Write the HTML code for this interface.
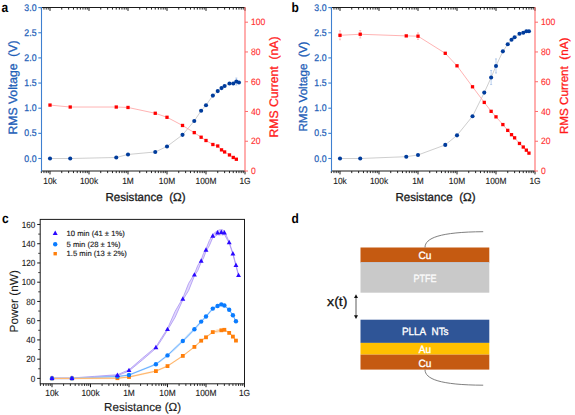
<!DOCTYPE html>
<html><head><meta charset="utf-8"><style>
html,body{margin:0;padding:0;background:#fff;width:575px;height:415px;overflow:hidden}
svg{display:block}
text{font-family:"Liberation Sans", sans-serif;text-rendering:geometricPrecision}
</style></head><body>
<svg width="575" height="415" viewBox="0 0 575 415">
<rect width="575" height="415" fill="#fff"/>
<g transform="translate(1.6 11.7) scale(0.88 1)"><text x="0" y="0" font-size="13.6" font-weight="bold" fill="#000">a</text></g>
<path d="M50,158.5 L70.22,158.5 L116.26,157.49 L128,154.48 L155.26,151.96 L167,146.43 L182.52,134.86 L194.26,120.98 L201.13,110.72 L206,105.18 L212.87,95.62 L217.74,91.1 L221.52,88.08 L224.61,86.07 L229.48,83.55 L233.26,83.55 L236.35,81.54 L238.96,82.55" fill="none" stroke="#c8c8c8" stroke-width="0.9"/>
<path d="M50,105.08 L70.22,107.02 L116.26,107.02 L128,107.46 L155.26,113.27 L167,117.28 L182.52,125.47 L194.26,132.61 L201.13,137.22 L206,140.5 L212.87,144.51 L217.74,146 L221.52,149.87 L224.61,151.95 L229.48,154.93 L233.26,157.46 L236.35,159.24" fill="none" stroke="#ffaaaa" stroke-width="0.9"/>
<path d="M236.35,78.02 V85.06 M235.35,78.02 h2 M235.35,85.06 h2" stroke="#8fb0e0" stroke-width="0.6" fill="none"/>
<rect x="48.35" y="103.43" width="3.3" height="3.3" fill="#ff0000"/>
<rect x="68.57" y="105.37" width="3.3" height="3.3" fill="#ff0000"/>
<rect x="114.61" y="105.37" width="3.3" height="3.3" fill="#ff0000"/>
<rect x="126.35" y="105.81" width="3.3" height="3.3" fill="#ff0000"/>
<rect x="153.61" y="111.62" width="3.3" height="3.3" fill="#ff0000"/>
<rect x="165.35" y="115.63" width="3.3" height="3.3" fill="#ff0000"/>
<rect x="180.87" y="123.82" width="3.3" height="3.3" fill="#ff0000"/>
<rect x="192.61" y="130.96" width="3.3" height="3.3" fill="#ff0000"/>
<rect x="199.48" y="135.57" width="3.3" height="3.3" fill="#ff0000"/>
<rect x="204.35" y="138.85" width="3.3" height="3.3" fill="#ff0000"/>
<rect x="211.22" y="142.86" width="3.3" height="3.3" fill="#ff0000"/>
<rect x="216.09" y="144.35" width="3.3" height="3.3" fill="#ff0000"/>
<rect x="219.87" y="148.22" width="3.3" height="3.3" fill="#ff0000"/>
<rect x="222.96" y="150.3" width="3.3" height="3.3" fill="#ff0000"/>
<rect x="227.83" y="153.28" width="3.3" height="3.3" fill="#ff0000"/>
<rect x="231.61" y="155.81" width="3.3" height="3.3" fill="#ff0000"/>
<rect x="234.7" y="157.59" width="3.3" height="3.3" fill="#ff0000"/>
<circle cx="50" cy="158.5" r="2.05" fill="#003c9c"/>
<circle cx="70.22" cy="158.5" r="2.05" fill="#003c9c"/>
<circle cx="116.26" cy="157.49" r="2.05" fill="#003c9c"/>
<circle cx="128" cy="154.48" r="2.05" fill="#003c9c"/>
<circle cx="155.26" cy="151.96" r="2.05" fill="#003c9c"/>
<circle cx="167" cy="146.43" r="2.05" fill="#003c9c"/>
<circle cx="182.52" cy="134.86" r="2.05" fill="#003c9c"/>
<circle cx="194.26" cy="120.98" r="2.05" fill="#003c9c"/>
<circle cx="201.13" cy="110.72" r="2.05" fill="#003c9c"/>
<circle cx="206" cy="105.18" r="2.05" fill="#003c9c"/>
<circle cx="212.87" cy="95.62" r="2.05" fill="#003c9c"/>
<circle cx="217.74" cy="91.1" r="2.05" fill="#003c9c"/>
<circle cx="221.52" cy="88.08" r="2.05" fill="#003c9c"/>
<circle cx="224.61" cy="86.07" r="2.05" fill="#003c9c"/>
<circle cx="229.48" cy="83.55" r="2.05" fill="#003c9c"/>
<circle cx="233.26" cy="83.55" r="2.05" fill="#003c9c"/>
<circle cx="236.35" cy="81.54" r="2.05" fill="#003c9c"/>
<circle cx="238.96" cy="82.55" r="2.05" fill="#003c9c"/>
<line x1="41.5" y1="7.5" x2="245" y2="7.5" stroke="#1a1a1a" stroke-width="1"/>
<line x1="41.5" y1="171" x2="245" y2="171" stroke="#1a1a1a" stroke-width="1"/>
<line x1="41.35" y1="171" x2="41.35" y2="173.1" stroke="#1a1a1a" stroke-width="0.95"/>
<line x1="41.35" y1="7.5" x2="41.35" y2="9.6" stroke="#1a1a1a" stroke-width="0.95"/>
<line x1="43.96" y1="171" x2="43.96" y2="173.1" stroke="#1a1a1a" stroke-width="0.95"/>
<line x1="43.96" y1="7.5" x2="43.96" y2="9.6" stroke="#1a1a1a" stroke-width="0.95"/>
<line x1="46.22" y1="171" x2="46.22" y2="173.1" stroke="#1a1a1a" stroke-width="0.95"/>
<line x1="46.22" y1="7.5" x2="46.22" y2="9.6" stroke="#1a1a1a" stroke-width="0.95"/>
<line x1="48.22" y1="171" x2="48.22" y2="173.1" stroke="#1a1a1a" stroke-width="0.95"/>
<line x1="48.22" y1="7.5" x2="48.22" y2="9.6" stroke="#1a1a1a" stroke-width="0.95"/>
<line x1="50" y1="171" x2="50" y2="174.4" stroke="#1a1a1a" stroke-width="1"/>
<line x1="50" y1="7.5" x2="50" y2="10.9" stroke="#1a1a1a" stroke-width="1"/>
<line x1="61.74" y1="171" x2="61.74" y2="173.1" stroke="#1a1a1a" stroke-width="0.95"/>
<line x1="61.74" y1="7.5" x2="61.74" y2="9.6" stroke="#1a1a1a" stroke-width="0.95"/>
<line x1="68.61" y1="171" x2="68.61" y2="173.1" stroke="#1a1a1a" stroke-width="0.95"/>
<line x1="68.61" y1="7.5" x2="68.61" y2="9.6" stroke="#1a1a1a" stroke-width="0.95"/>
<line x1="73.48" y1="171" x2="73.48" y2="173.1" stroke="#1a1a1a" stroke-width="0.95"/>
<line x1="73.48" y1="7.5" x2="73.48" y2="9.6" stroke="#1a1a1a" stroke-width="0.95"/>
<line x1="77.26" y1="171" x2="77.26" y2="173.1" stroke="#1a1a1a" stroke-width="0.95"/>
<line x1="77.26" y1="7.5" x2="77.26" y2="9.6" stroke="#1a1a1a" stroke-width="0.95"/>
<line x1="80.35" y1="171" x2="80.35" y2="173.1" stroke="#1a1a1a" stroke-width="0.95"/>
<line x1="80.35" y1="7.5" x2="80.35" y2="9.6" stroke="#1a1a1a" stroke-width="0.95"/>
<line x1="82.96" y1="171" x2="82.96" y2="173.1" stroke="#1a1a1a" stroke-width="0.95"/>
<line x1="82.96" y1="7.5" x2="82.96" y2="9.6" stroke="#1a1a1a" stroke-width="0.95"/>
<line x1="85.22" y1="171" x2="85.22" y2="173.1" stroke="#1a1a1a" stroke-width="0.95"/>
<line x1="85.22" y1="7.5" x2="85.22" y2="9.6" stroke="#1a1a1a" stroke-width="0.95"/>
<line x1="87.22" y1="171" x2="87.22" y2="173.1" stroke="#1a1a1a" stroke-width="0.95"/>
<line x1="87.22" y1="7.5" x2="87.22" y2="9.6" stroke="#1a1a1a" stroke-width="0.95"/>
<line x1="89" y1="171" x2="89" y2="174.4" stroke="#1a1a1a" stroke-width="1"/>
<line x1="89" y1="7.5" x2="89" y2="10.9" stroke="#1a1a1a" stroke-width="1"/>
<line x1="100.74" y1="171" x2="100.74" y2="173.1" stroke="#1a1a1a" stroke-width="0.95"/>
<line x1="100.74" y1="7.5" x2="100.74" y2="9.6" stroke="#1a1a1a" stroke-width="0.95"/>
<line x1="107.61" y1="171" x2="107.61" y2="173.1" stroke="#1a1a1a" stroke-width="0.95"/>
<line x1="107.61" y1="7.5" x2="107.61" y2="9.6" stroke="#1a1a1a" stroke-width="0.95"/>
<line x1="112.48" y1="171" x2="112.48" y2="173.1" stroke="#1a1a1a" stroke-width="0.95"/>
<line x1="112.48" y1="7.5" x2="112.48" y2="9.6" stroke="#1a1a1a" stroke-width="0.95"/>
<line x1="116.26" y1="171" x2="116.26" y2="173.1" stroke="#1a1a1a" stroke-width="0.95"/>
<line x1="116.26" y1="7.5" x2="116.26" y2="9.6" stroke="#1a1a1a" stroke-width="0.95"/>
<line x1="119.35" y1="171" x2="119.35" y2="173.1" stroke="#1a1a1a" stroke-width="0.95"/>
<line x1="119.35" y1="7.5" x2="119.35" y2="9.6" stroke="#1a1a1a" stroke-width="0.95"/>
<line x1="121.96" y1="171" x2="121.96" y2="173.1" stroke="#1a1a1a" stroke-width="0.95"/>
<line x1="121.96" y1="7.5" x2="121.96" y2="9.6" stroke="#1a1a1a" stroke-width="0.95"/>
<line x1="124.22" y1="171" x2="124.22" y2="173.1" stroke="#1a1a1a" stroke-width="0.95"/>
<line x1="124.22" y1="7.5" x2="124.22" y2="9.6" stroke="#1a1a1a" stroke-width="0.95"/>
<line x1="126.22" y1="171" x2="126.22" y2="173.1" stroke="#1a1a1a" stroke-width="0.95"/>
<line x1="126.22" y1="7.5" x2="126.22" y2="9.6" stroke="#1a1a1a" stroke-width="0.95"/>
<line x1="128" y1="171" x2="128" y2="174.4" stroke="#1a1a1a" stroke-width="1"/>
<line x1="128" y1="7.5" x2="128" y2="10.9" stroke="#1a1a1a" stroke-width="1"/>
<line x1="139.74" y1="171" x2="139.74" y2="173.1" stroke="#1a1a1a" stroke-width="0.95"/>
<line x1="139.74" y1="7.5" x2="139.74" y2="9.6" stroke="#1a1a1a" stroke-width="0.95"/>
<line x1="146.61" y1="171" x2="146.61" y2="173.1" stroke="#1a1a1a" stroke-width="0.95"/>
<line x1="146.61" y1="7.5" x2="146.61" y2="9.6" stroke="#1a1a1a" stroke-width="0.95"/>
<line x1="151.48" y1="171" x2="151.48" y2="173.1" stroke="#1a1a1a" stroke-width="0.95"/>
<line x1="151.48" y1="7.5" x2="151.48" y2="9.6" stroke="#1a1a1a" stroke-width="0.95"/>
<line x1="155.26" y1="171" x2="155.26" y2="173.1" stroke="#1a1a1a" stroke-width="0.95"/>
<line x1="155.26" y1="7.5" x2="155.26" y2="9.6" stroke="#1a1a1a" stroke-width="0.95"/>
<line x1="158.35" y1="171" x2="158.35" y2="173.1" stroke="#1a1a1a" stroke-width="0.95"/>
<line x1="158.35" y1="7.5" x2="158.35" y2="9.6" stroke="#1a1a1a" stroke-width="0.95"/>
<line x1="160.96" y1="171" x2="160.96" y2="173.1" stroke="#1a1a1a" stroke-width="0.95"/>
<line x1="160.96" y1="7.5" x2="160.96" y2="9.6" stroke="#1a1a1a" stroke-width="0.95"/>
<line x1="163.22" y1="171" x2="163.22" y2="173.1" stroke="#1a1a1a" stroke-width="0.95"/>
<line x1="163.22" y1="7.5" x2="163.22" y2="9.6" stroke="#1a1a1a" stroke-width="0.95"/>
<line x1="165.22" y1="171" x2="165.22" y2="173.1" stroke="#1a1a1a" stroke-width="0.95"/>
<line x1="165.22" y1="7.5" x2="165.22" y2="9.6" stroke="#1a1a1a" stroke-width="0.95"/>
<line x1="167" y1="171" x2="167" y2="174.4" stroke="#1a1a1a" stroke-width="1"/>
<line x1="167" y1="7.5" x2="167" y2="10.9" stroke="#1a1a1a" stroke-width="1"/>
<line x1="178.74" y1="171" x2="178.74" y2="173.1" stroke="#1a1a1a" stroke-width="0.95"/>
<line x1="178.74" y1="7.5" x2="178.74" y2="9.6" stroke="#1a1a1a" stroke-width="0.95"/>
<line x1="185.61" y1="171" x2="185.61" y2="173.1" stroke="#1a1a1a" stroke-width="0.95"/>
<line x1="185.61" y1="7.5" x2="185.61" y2="9.6" stroke="#1a1a1a" stroke-width="0.95"/>
<line x1="190.48" y1="171" x2="190.48" y2="173.1" stroke="#1a1a1a" stroke-width="0.95"/>
<line x1="190.48" y1="7.5" x2="190.48" y2="9.6" stroke="#1a1a1a" stroke-width="0.95"/>
<line x1="194.26" y1="171" x2="194.26" y2="173.1" stroke="#1a1a1a" stroke-width="0.95"/>
<line x1="194.26" y1="7.5" x2="194.26" y2="9.6" stroke="#1a1a1a" stroke-width="0.95"/>
<line x1="197.35" y1="171" x2="197.35" y2="173.1" stroke="#1a1a1a" stroke-width="0.95"/>
<line x1="197.35" y1="7.5" x2="197.35" y2="9.6" stroke="#1a1a1a" stroke-width="0.95"/>
<line x1="199.96" y1="171" x2="199.96" y2="173.1" stroke="#1a1a1a" stroke-width="0.95"/>
<line x1="199.96" y1="7.5" x2="199.96" y2="9.6" stroke="#1a1a1a" stroke-width="0.95"/>
<line x1="202.22" y1="171" x2="202.22" y2="173.1" stroke="#1a1a1a" stroke-width="0.95"/>
<line x1="202.22" y1="7.5" x2="202.22" y2="9.6" stroke="#1a1a1a" stroke-width="0.95"/>
<line x1="204.22" y1="171" x2="204.22" y2="173.1" stroke="#1a1a1a" stroke-width="0.95"/>
<line x1="204.22" y1="7.5" x2="204.22" y2="9.6" stroke="#1a1a1a" stroke-width="0.95"/>
<line x1="206" y1="171" x2="206" y2="174.4" stroke="#1a1a1a" stroke-width="1"/>
<line x1="206" y1="7.5" x2="206" y2="10.9" stroke="#1a1a1a" stroke-width="1"/>
<line x1="217.74" y1="171" x2="217.74" y2="173.1" stroke="#1a1a1a" stroke-width="0.95"/>
<line x1="217.74" y1="7.5" x2="217.74" y2="9.6" stroke="#1a1a1a" stroke-width="0.95"/>
<line x1="224.61" y1="171" x2="224.61" y2="173.1" stroke="#1a1a1a" stroke-width="0.95"/>
<line x1="224.61" y1="7.5" x2="224.61" y2="9.6" stroke="#1a1a1a" stroke-width="0.95"/>
<line x1="229.48" y1="171" x2="229.48" y2="173.1" stroke="#1a1a1a" stroke-width="0.95"/>
<line x1="229.48" y1="7.5" x2="229.48" y2="9.6" stroke="#1a1a1a" stroke-width="0.95"/>
<line x1="233.26" y1="171" x2="233.26" y2="173.1" stroke="#1a1a1a" stroke-width="0.95"/>
<line x1="233.26" y1="7.5" x2="233.26" y2="9.6" stroke="#1a1a1a" stroke-width="0.95"/>
<line x1="236.35" y1="171" x2="236.35" y2="173.1" stroke="#1a1a1a" stroke-width="0.95"/>
<line x1="236.35" y1="7.5" x2="236.35" y2="9.6" stroke="#1a1a1a" stroke-width="0.95"/>
<line x1="238.96" y1="171" x2="238.96" y2="173.1" stroke="#1a1a1a" stroke-width="0.95"/>
<line x1="238.96" y1="7.5" x2="238.96" y2="9.6" stroke="#1a1a1a" stroke-width="0.95"/>
<line x1="241.22" y1="171" x2="241.22" y2="173.1" stroke="#1a1a1a" stroke-width="0.95"/>
<line x1="241.22" y1="7.5" x2="241.22" y2="9.6" stroke="#1a1a1a" stroke-width="0.95"/>
<line x1="243.22" y1="171" x2="243.22" y2="173.1" stroke="#1a1a1a" stroke-width="0.95"/>
<line x1="243.22" y1="7.5" x2="243.22" y2="9.6" stroke="#1a1a1a" stroke-width="0.95"/>
<line x1="245" y1="171" x2="245" y2="174.4" stroke="#1a1a1a" stroke-width="1"/>
<line x1="245" y1="7.5" x2="245" y2="10.9" stroke="#1a1a1a" stroke-width="1"/>
<g transform="translate(50 184) scale(0.93 1)"><text x="0" y="0" font-size="9.0" fill="#1a1a1a" text-anchor="middle" stroke="#1a1a1a" stroke-width="0.12">10k</text></g>
<g transform="translate(89 184) scale(0.93 1)"><text x="0" y="0" font-size="9.0" fill="#1a1a1a" text-anchor="middle" stroke="#1a1a1a" stroke-width="0.12">100k</text></g>
<g transform="translate(128 184) scale(0.93 1)"><text x="0" y="0" font-size="9.0" fill="#1a1a1a" text-anchor="middle" stroke="#1a1a1a" stroke-width="0.12">1M</text></g>
<g transform="translate(167 184) scale(0.93 1)"><text x="0" y="0" font-size="9.0" fill="#1a1a1a" text-anchor="middle" stroke="#1a1a1a" stroke-width="0.12">10M</text></g>
<g transform="translate(206 184) scale(0.93 1)"><text x="0" y="0" font-size="9.0" fill="#1a1a1a" text-anchor="middle" stroke="#1a1a1a" stroke-width="0.12">100M</text></g>
<g transform="translate(245 184) scale(0.93 1)"><text x="0" y="0" font-size="9.0" fill="#1a1a1a" text-anchor="middle" stroke="#1a1a1a" stroke-width="0.12">1G</text></g>
<line x1="41.5" y1="7" x2="41.5" y2="171.5" stroke="#3f80d0" stroke-width="1.1"/>
<line x1="245" y1="7" x2="245" y2="171.5" stroke="#ff6b6b" stroke-width="1.1"/>
<line x1="38.3" y1="158.5" x2="41.5" y2="158.5" stroke="#3f80d0" stroke-width="1.1"/>
<g transform="translate(36.5 161.6) scale(0.91 1)"><text x="0" y="0" font-size="9.6" fill="#1f5fb8" text-anchor="end" stroke="#1f5fb8" stroke-width="0.25">0.0</text></g>
<line x1="38.3" y1="133.35" x2="41.5" y2="133.35" stroke="#3f80d0" stroke-width="1.1"/>
<g transform="translate(36.5 136.45) scale(0.91 1)"><text x="0" y="0" font-size="9.6" fill="#1f5fb8" text-anchor="end" stroke="#1f5fb8" stroke-width="0.25">0.5</text></g>
<line x1="38.3" y1="108.2" x2="41.5" y2="108.2" stroke="#3f80d0" stroke-width="1.1"/>
<g transform="translate(36.5 111.3) scale(0.91 1)"><text x="0" y="0" font-size="9.6" fill="#1f5fb8" text-anchor="end" stroke="#1f5fb8" stroke-width="0.25">1.0</text></g>
<line x1="38.3" y1="83.05" x2="41.5" y2="83.05" stroke="#3f80d0" stroke-width="1.1"/>
<g transform="translate(36.5 86.15) scale(0.91 1)"><text x="0" y="0" font-size="9.6" fill="#1f5fb8" text-anchor="end" stroke="#1f5fb8" stroke-width="0.25">1.5</text></g>
<line x1="38.3" y1="57.9" x2="41.5" y2="57.9" stroke="#3f80d0" stroke-width="1.1"/>
<g transform="translate(36.5 61) scale(0.91 1)"><text x="0" y="0" font-size="9.6" fill="#1f5fb8" text-anchor="end" stroke="#1f5fb8" stroke-width="0.25">2.0</text></g>
<line x1="38.3" y1="32.75" x2="41.5" y2="32.75" stroke="#3f80d0" stroke-width="1.1"/>
<g transform="translate(36.5 35.85) scale(0.91 1)"><text x="0" y="0" font-size="9.6" fill="#1f5fb8" text-anchor="end" stroke="#1f5fb8" stroke-width="0.25">2.5</text></g>
<line x1="38.3" y1="7.6" x2="41.5" y2="7.6" stroke="#3f80d0" stroke-width="1.1"/>
<g transform="translate(36.5 10.7) scale(0.91 1)"><text x="0" y="0" font-size="9.6" fill="#1f5fb8" text-anchor="end" stroke="#1f5fb8" stroke-width="0.25">3.0</text></g>
<line x1="245" y1="171" x2="248" y2="171" stroke="#ff6b6b" stroke-width="1"/>
<g transform="translate(251 174.2) scale(0.92 1)"><text x="0" y="0" font-size="9.4" fill="#ff3030" text-anchor="start" stroke="#ff3030" stroke-width="0.12">0</text></g>
<line x1="245" y1="141.24" x2="248" y2="141.24" stroke="#ff6b6b" stroke-width="1"/>
<g transform="translate(251 144.44) scale(0.92 1)"><text x="0" y="0" font-size="9.4" fill="#ff3030" text-anchor="start" stroke="#ff3030" stroke-width="0.12">20</text></g>
<line x1="245" y1="111.48" x2="248" y2="111.48" stroke="#ff6b6b" stroke-width="1"/>
<g transform="translate(251 114.68) scale(0.92 1)"><text x="0" y="0" font-size="9.4" fill="#ff3030" text-anchor="start" stroke="#ff3030" stroke-width="0.12">40</text></g>
<line x1="245" y1="81.72" x2="248" y2="81.72" stroke="#ff6b6b" stroke-width="1"/>
<g transform="translate(251 84.92) scale(0.92 1)"><text x="0" y="0" font-size="9.4" fill="#ff3030" text-anchor="start" stroke="#ff3030" stroke-width="0.12">60</text></g>
<line x1="245" y1="51.96" x2="248" y2="51.96" stroke="#ff6b6b" stroke-width="1"/>
<g transform="translate(251 55.16) scale(0.92 1)"><text x="0" y="0" font-size="9.4" fill="#ff3030" text-anchor="start" stroke="#ff3030" stroke-width="0.12">80</text></g>
<line x1="245" y1="22.2" x2="248" y2="22.2" stroke="#ff6b6b" stroke-width="1"/>
<g transform="translate(251 25.4) scale(0.92 1)"><text x="0" y="0" font-size="9.4" fill="#ff3030" text-anchor="start" stroke="#ff3030" stroke-width="0.12">100</text></g>
<text x="17.4" y="87.5" font-size="12.2" fill="#1f5fb8" text-anchor="middle" font-weight="normal" transform="rotate(-90 17.4 87.5)" stroke="#1f5fb8" stroke-width="0.3">RMS Voltage&#160;&#160;(V)</text>
<text x="278" y="87" font-size="12.2" fill="#ff1a1a" text-anchor="middle" font-weight="normal" transform="rotate(-90 278 87)" stroke="#ff1a1a" stroke-width="0.3">RMS Current&#160;&#160;(nA)</text>
<text x="145.5" y="201" font-size="11.6" fill="#1a1a1a" text-anchor="middle" font-weight="normal" stroke="#1a1a1a" stroke-width="0.3">Resistance&#160;&#160;(&#937;)</text>
<g transform="translate(291.6 11.7) scale(0.88 1)"><text x="0" y="0" font-size="13.6" font-weight="bold" fill="#000">b</text></g>
<path d="M340,158.5 L360.22,158.5 L406.26,156.69 L418,154.98 L445.26,144.92 L457,135.36 L472.52,116.25 L484.26,92.61 L491.13,77.52 L496,65.95 L502.87,51.36 L507.74,44.32 L511.52,39.79 L514.61,37.28 L519.48,33.76 L523.26,32.75 L526.35,31.24 L528.96,31.24" fill="none" stroke="#c8c8c8" stroke-width="0.9"/>
<path d="M340,35.29 L360.22,34.25 L406.26,35.89 L418,36.19 L445.26,53.3 L457,65.8 L472.52,86.78 L484.26,102.4 L491.13,111.33 L496,116.84 L502.87,124.57 L507.74,130.38 L511.52,134.69 L514.61,137.82 L519.48,143.47 L523.26,147.04 L526.35,150.17 L528.96,153.14" fill="none" stroke="#ffaaaa" stroke-width="0.9"/>
<path d="M340,30.83 V39.76 M339,30.83 h2 M339,39.76 h2" stroke="#ff9a9a" stroke-width="0.6" fill="none"/>
<path d="M360.22,30.53 V37.97 M359.22,30.53 h2 M359.22,37.97 h2" stroke="#ff9a9a" stroke-width="0.6" fill="none"/>
<path d="M418,32.91 V39.46 M417,32.91 h2 M417,39.46 h2" stroke="#ff9a9a" stroke-width="0.6" fill="none"/>
<path d="M491.13,70.48 V84.56 M490.13,70.48 h2 M490.13,84.56 h2" stroke="#8fb0e0" stroke-width="0.6" fill="none"/>
<path d="M496,58.91 V72.99 M495,58.91 h2 M495,72.99 h2" stroke="#8fb0e0" stroke-width="0.6" fill="none"/>
<rect x="338.35" y="33.64" width="3.3" height="3.3" fill="#ff0000"/>
<rect x="358.57" y="32.6" width="3.3" height="3.3" fill="#ff0000"/>
<rect x="404.61" y="34.24" width="3.3" height="3.3" fill="#ff0000"/>
<rect x="416.35" y="34.54" width="3.3" height="3.3" fill="#ff0000"/>
<rect x="443.61" y="51.65" width="3.3" height="3.3" fill="#ff0000"/>
<rect x="455.35" y="64.15" width="3.3" height="3.3" fill="#ff0000"/>
<rect x="470.87" y="85.13" width="3.3" height="3.3" fill="#ff0000"/>
<rect x="482.61" y="100.75" width="3.3" height="3.3" fill="#ff0000"/>
<rect x="489.48" y="109.68" width="3.3" height="3.3" fill="#ff0000"/>
<rect x="494.35" y="115.19" width="3.3" height="3.3" fill="#ff0000"/>
<rect x="501.22" y="122.92" width="3.3" height="3.3" fill="#ff0000"/>
<rect x="506.09" y="128.73" width="3.3" height="3.3" fill="#ff0000"/>
<rect x="509.87" y="133.04" width="3.3" height="3.3" fill="#ff0000"/>
<rect x="512.96" y="136.17" width="3.3" height="3.3" fill="#ff0000"/>
<rect x="517.83" y="141.82" width="3.3" height="3.3" fill="#ff0000"/>
<rect x="521.61" y="145.39" width="3.3" height="3.3" fill="#ff0000"/>
<rect x="524.7" y="148.52" width="3.3" height="3.3" fill="#ff0000"/>
<rect x="527.31" y="151.49" width="3.3" height="3.3" fill="#ff0000"/>
<circle cx="340" cy="158.5" r="2.05" fill="#003c9c"/>
<circle cx="360.22" cy="158.5" r="2.05" fill="#003c9c"/>
<circle cx="406.26" cy="156.69" r="2.05" fill="#003c9c"/>
<circle cx="418" cy="154.98" r="2.05" fill="#003c9c"/>
<circle cx="445.26" cy="144.92" r="2.05" fill="#003c9c"/>
<circle cx="457" cy="135.36" r="2.05" fill="#003c9c"/>
<circle cx="472.52" cy="116.25" r="2.05" fill="#003c9c"/>
<circle cx="484.26" cy="92.61" r="2.05" fill="#003c9c"/>
<circle cx="491.13" cy="77.52" r="2.05" fill="#003c9c"/>
<circle cx="496" cy="65.95" r="2.05" fill="#003c9c"/>
<circle cx="502.87" cy="51.36" r="2.05" fill="#003c9c"/>
<circle cx="507.74" cy="44.32" r="2.05" fill="#003c9c"/>
<circle cx="511.52" cy="39.79" r="2.05" fill="#003c9c"/>
<circle cx="514.61" cy="37.28" r="2.05" fill="#003c9c"/>
<circle cx="519.48" cy="33.76" r="2.05" fill="#003c9c"/>
<circle cx="523.26" cy="32.75" r="2.05" fill="#003c9c"/>
<circle cx="526.35" cy="31.24" r="2.05" fill="#003c9c"/>
<circle cx="528.96" cy="31.24" r="2.05" fill="#003c9c"/>
<line x1="331.5" y1="7.5" x2="535" y2="7.5" stroke="#1a1a1a" stroke-width="1"/>
<line x1="331.5" y1="171" x2="535" y2="171" stroke="#1a1a1a" stroke-width="1"/>
<line x1="331.35" y1="171" x2="331.35" y2="173.1" stroke="#1a1a1a" stroke-width="0.95"/>
<line x1="331.35" y1="7.5" x2="331.35" y2="9.6" stroke="#1a1a1a" stroke-width="0.95"/>
<line x1="333.96" y1="171" x2="333.96" y2="173.1" stroke="#1a1a1a" stroke-width="0.95"/>
<line x1="333.96" y1="7.5" x2="333.96" y2="9.6" stroke="#1a1a1a" stroke-width="0.95"/>
<line x1="336.22" y1="171" x2="336.22" y2="173.1" stroke="#1a1a1a" stroke-width="0.95"/>
<line x1="336.22" y1="7.5" x2="336.22" y2="9.6" stroke="#1a1a1a" stroke-width="0.95"/>
<line x1="338.22" y1="171" x2="338.22" y2="173.1" stroke="#1a1a1a" stroke-width="0.95"/>
<line x1="338.22" y1="7.5" x2="338.22" y2="9.6" stroke="#1a1a1a" stroke-width="0.95"/>
<line x1="340" y1="171" x2="340" y2="174.4" stroke="#1a1a1a" stroke-width="1"/>
<line x1="340" y1="7.5" x2="340" y2="10.9" stroke="#1a1a1a" stroke-width="1"/>
<line x1="351.74" y1="171" x2="351.74" y2="173.1" stroke="#1a1a1a" stroke-width="0.95"/>
<line x1="351.74" y1="7.5" x2="351.74" y2="9.6" stroke="#1a1a1a" stroke-width="0.95"/>
<line x1="358.61" y1="171" x2="358.61" y2="173.1" stroke="#1a1a1a" stroke-width="0.95"/>
<line x1="358.61" y1="7.5" x2="358.61" y2="9.6" stroke="#1a1a1a" stroke-width="0.95"/>
<line x1="363.48" y1="171" x2="363.48" y2="173.1" stroke="#1a1a1a" stroke-width="0.95"/>
<line x1="363.48" y1="7.5" x2="363.48" y2="9.6" stroke="#1a1a1a" stroke-width="0.95"/>
<line x1="367.26" y1="171" x2="367.26" y2="173.1" stroke="#1a1a1a" stroke-width="0.95"/>
<line x1="367.26" y1="7.5" x2="367.26" y2="9.6" stroke="#1a1a1a" stroke-width="0.95"/>
<line x1="370.35" y1="171" x2="370.35" y2="173.1" stroke="#1a1a1a" stroke-width="0.95"/>
<line x1="370.35" y1="7.5" x2="370.35" y2="9.6" stroke="#1a1a1a" stroke-width="0.95"/>
<line x1="372.96" y1="171" x2="372.96" y2="173.1" stroke="#1a1a1a" stroke-width="0.95"/>
<line x1="372.96" y1="7.5" x2="372.96" y2="9.6" stroke="#1a1a1a" stroke-width="0.95"/>
<line x1="375.22" y1="171" x2="375.22" y2="173.1" stroke="#1a1a1a" stroke-width="0.95"/>
<line x1="375.22" y1="7.5" x2="375.22" y2="9.6" stroke="#1a1a1a" stroke-width="0.95"/>
<line x1="377.22" y1="171" x2="377.22" y2="173.1" stroke="#1a1a1a" stroke-width="0.95"/>
<line x1="377.22" y1="7.5" x2="377.22" y2="9.6" stroke="#1a1a1a" stroke-width="0.95"/>
<line x1="379" y1="171" x2="379" y2="174.4" stroke="#1a1a1a" stroke-width="1"/>
<line x1="379" y1="7.5" x2="379" y2="10.9" stroke="#1a1a1a" stroke-width="1"/>
<line x1="390.74" y1="171" x2="390.74" y2="173.1" stroke="#1a1a1a" stroke-width="0.95"/>
<line x1="390.74" y1="7.5" x2="390.74" y2="9.6" stroke="#1a1a1a" stroke-width="0.95"/>
<line x1="397.61" y1="171" x2="397.61" y2="173.1" stroke="#1a1a1a" stroke-width="0.95"/>
<line x1="397.61" y1="7.5" x2="397.61" y2="9.6" stroke="#1a1a1a" stroke-width="0.95"/>
<line x1="402.48" y1="171" x2="402.48" y2="173.1" stroke="#1a1a1a" stroke-width="0.95"/>
<line x1="402.48" y1="7.5" x2="402.48" y2="9.6" stroke="#1a1a1a" stroke-width="0.95"/>
<line x1="406.26" y1="171" x2="406.26" y2="173.1" stroke="#1a1a1a" stroke-width="0.95"/>
<line x1="406.26" y1="7.5" x2="406.26" y2="9.6" stroke="#1a1a1a" stroke-width="0.95"/>
<line x1="409.35" y1="171" x2="409.35" y2="173.1" stroke="#1a1a1a" stroke-width="0.95"/>
<line x1="409.35" y1="7.5" x2="409.35" y2="9.6" stroke="#1a1a1a" stroke-width="0.95"/>
<line x1="411.96" y1="171" x2="411.96" y2="173.1" stroke="#1a1a1a" stroke-width="0.95"/>
<line x1="411.96" y1="7.5" x2="411.96" y2="9.6" stroke="#1a1a1a" stroke-width="0.95"/>
<line x1="414.22" y1="171" x2="414.22" y2="173.1" stroke="#1a1a1a" stroke-width="0.95"/>
<line x1="414.22" y1="7.5" x2="414.22" y2="9.6" stroke="#1a1a1a" stroke-width="0.95"/>
<line x1="416.22" y1="171" x2="416.22" y2="173.1" stroke="#1a1a1a" stroke-width="0.95"/>
<line x1="416.22" y1="7.5" x2="416.22" y2="9.6" stroke="#1a1a1a" stroke-width="0.95"/>
<line x1="418" y1="171" x2="418" y2="174.4" stroke="#1a1a1a" stroke-width="1"/>
<line x1="418" y1="7.5" x2="418" y2="10.9" stroke="#1a1a1a" stroke-width="1"/>
<line x1="429.74" y1="171" x2="429.74" y2="173.1" stroke="#1a1a1a" stroke-width="0.95"/>
<line x1="429.74" y1="7.5" x2="429.74" y2="9.6" stroke="#1a1a1a" stroke-width="0.95"/>
<line x1="436.61" y1="171" x2="436.61" y2="173.1" stroke="#1a1a1a" stroke-width="0.95"/>
<line x1="436.61" y1="7.5" x2="436.61" y2="9.6" stroke="#1a1a1a" stroke-width="0.95"/>
<line x1="441.48" y1="171" x2="441.48" y2="173.1" stroke="#1a1a1a" stroke-width="0.95"/>
<line x1="441.48" y1="7.5" x2="441.48" y2="9.6" stroke="#1a1a1a" stroke-width="0.95"/>
<line x1="445.26" y1="171" x2="445.26" y2="173.1" stroke="#1a1a1a" stroke-width="0.95"/>
<line x1="445.26" y1="7.5" x2="445.26" y2="9.6" stroke="#1a1a1a" stroke-width="0.95"/>
<line x1="448.35" y1="171" x2="448.35" y2="173.1" stroke="#1a1a1a" stroke-width="0.95"/>
<line x1="448.35" y1="7.5" x2="448.35" y2="9.6" stroke="#1a1a1a" stroke-width="0.95"/>
<line x1="450.96" y1="171" x2="450.96" y2="173.1" stroke="#1a1a1a" stroke-width="0.95"/>
<line x1="450.96" y1="7.5" x2="450.96" y2="9.6" stroke="#1a1a1a" stroke-width="0.95"/>
<line x1="453.22" y1="171" x2="453.22" y2="173.1" stroke="#1a1a1a" stroke-width="0.95"/>
<line x1="453.22" y1="7.5" x2="453.22" y2="9.6" stroke="#1a1a1a" stroke-width="0.95"/>
<line x1="455.22" y1="171" x2="455.22" y2="173.1" stroke="#1a1a1a" stroke-width="0.95"/>
<line x1="455.22" y1="7.5" x2="455.22" y2="9.6" stroke="#1a1a1a" stroke-width="0.95"/>
<line x1="457" y1="171" x2="457" y2="174.4" stroke="#1a1a1a" stroke-width="1"/>
<line x1="457" y1="7.5" x2="457" y2="10.9" stroke="#1a1a1a" stroke-width="1"/>
<line x1="468.74" y1="171" x2="468.74" y2="173.1" stroke="#1a1a1a" stroke-width="0.95"/>
<line x1="468.74" y1="7.5" x2="468.74" y2="9.6" stroke="#1a1a1a" stroke-width="0.95"/>
<line x1="475.61" y1="171" x2="475.61" y2="173.1" stroke="#1a1a1a" stroke-width="0.95"/>
<line x1="475.61" y1="7.5" x2="475.61" y2="9.6" stroke="#1a1a1a" stroke-width="0.95"/>
<line x1="480.48" y1="171" x2="480.48" y2="173.1" stroke="#1a1a1a" stroke-width="0.95"/>
<line x1="480.48" y1="7.5" x2="480.48" y2="9.6" stroke="#1a1a1a" stroke-width="0.95"/>
<line x1="484.26" y1="171" x2="484.26" y2="173.1" stroke="#1a1a1a" stroke-width="0.95"/>
<line x1="484.26" y1="7.5" x2="484.26" y2="9.6" stroke="#1a1a1a" stroke-width="0.95"/>
<line x1="487.35" y1="171" x2="487.35" y2="173.1" stroke="#1a1a1a" stroke-width="0.95"/>
<line x1="487.35" y1="7.5" x2="487.35" y2="9.6" stroke="#1a1a1a" stroke-width="0.95"/>
<line x1="489.96" y1="171" x2="489.96" y2="173.1" stroke="#1a1a1a" stroke-width="0.95"/>
<line x1="489.96" y1="7.5" x2="489.96" y2="9.6" stroke="#1a1a1a" stroke-width="0.95"/>
<line x1="492.22" y1="171" x2="492.22" y2="173.1" stroke="#1a1a1a" stroke-width="0.95"/>
<line x1="492.22" y1="7.5" x2="492.22" y2="9.6" stroke="#1a1a1a" stroke-width="0.95"/>
<line x1="494.22" y1="171" x2="494.22" y2="173.1" stroke="#1a1a1a" stroke-width="0.95"/>
<line x1="494.22" y1="7.5" x2="494.22" y2="9.6" stroke="#1a1a1a" stroke-width="0.95"/>
<line x1="496" y1="171" x2="496" y2="174.4" stroke="#1a1a1a" stroke-width="1"/>
<line x1="496" y1="7.5" x2="496" y2="10.9" stroke="#1a1a1a" stroke-width="1"/>
<line x1="507.74" y1="171" x2="507.74" y2="173.1" stroke="#1a1a1a" stroke-width="0.95"/>
<line x1="507.74" y1="7.5" x2="507.74" y2="9.6" stroke="#1a1a1a" stroke-width="0.95"/>
<line x1="514.61" y1="171" x2="514.61" y2="173.1" stroke="#1a1a1a" stroke-width="0.95"/>
<line x1="514.61" y1="7.5" x2="514.61" y2="9.6" stroke="#1a1a1a" stroke-width="0.95"/>
<line x1="519.48" y1="171" x2="519.48" y2="173.1" stroke="#1a1a1a" stroke-width="0.95"/>
<line x1="519.48" y1="7.5" x2="519.48" y2="9.6" stroke="#1a1a1a" stroke-width="0.95"/>
<line x1="523.26" y1="171" x2="523.26" y2="173.1" stroke="#1a1a1a" stroke-width="0.95"/>
<line x1="523.26" y1="7.5" x2="523.26" y2="9.6" stroke="#1a1a1a" stroke-width="0.95"/>
<line x1="526.35" y1="171" x2="526.35" y2="173.1" stroke="#1a1a1a" stroke-width="0.95"/>
<line x1="526.35" y1="7.5" x2="526.35" y2="9.6" stroke="#1a1a1a" stroke-width="0.95"/>
<line x1="528.96" y1="171" x2="528.96" y2="173.1" stroke="#1a1a1a" stroke-width="0.95"/>
<line x1="528.96" y1="7.5" x2="528.96" y2="9.6" stroke="#1a1a1a" stroke-width="0.95"/>
<line x1="531.22" y1="171" x2="531.22" y2="173.1" stroke="#1a1a1a" stroke-width="0.95"/>
<line x1="531.22" y1="7.5" x2="531.22" y2="9.6" stroke="#1a1a1a" stroke-width="0.95"/>
<line x1="533.22" y1="171" x2="533.22" y2="173.1" stroke="#1a1a1a" stroke-width="0.95"/>
<line x1="533.22" y1="7.5" x2="533.22" y2="9.6" stroke="#1a1a1a" stroke-width="0.95"/>
<line x1="535" y1="171" x2="535" y2="174.4" stroke="#1a1a1a" stroke-width="1"/>
<line x1="535" y1="7.5" x2="535" y2="10.9" stroke="#1a1a1a" stroke-width="1"/>
<g transform="translate(340 184) scale(0.93 1)"><text x="0" y="0" font-size="9.0" fill="#1a1a1a" text-anchor="middle" stroke="#1a1a1a" stroke-width="0.12">10k</text></g>
<g transform="translate(379 184) scale(0.93 1)"><text x="0" y="0" font-size="9.0" fill="#1a1a1a" text-anchor="middle" stroke="#1a1a1a" stroke-width="0.12">100k</text></g>
<g transform="translate(418 184) scale(0.93 1)"><text x="0" y="0" font-size="9.0" fill="#1a1a1a" text-anchor="middle" stroke="#1a1a1a" stroke-width="0.12">1M</text></g>
<g transform="translate(457 184) scale(0.93 1)"><text x="0" y="0" font-size="9.0" fill="#1a1a1a" text-anchor="middle" stroke="#1a1a1a" stroke-width="0.12">10M</text></g>
<g transform="translate(496 184) scale(0.93 1)"><text x="0" y="0" font-size="9.0" fill="#1a1a1a" text-anchor="middle" stroke="#1a1a1a" stroke-width="0.12">100M</text></g>
<g transform="translate(535 184) scale(0.93 1)"><text x="0" y="0" font-size="9.0" fill="#1a1a1a" text-anchor="middle" stroke="#1a1a1a" stroke-width="0.12">1G</text></g>
<line x1="331.5" y1="7" x2="331.5" y2="171.5" stroke="#3f80d0" stroke-width="1.1"/>
<line x1="535" y1="7" x2="535" y2="171.5" stroke="#ff6b6b" stroke-width="1.1"/>
<line x1="328.3" y1="158.5" x2="331.5" y2="158.5" stroke="#3f80d0" stroke-width="1.1"/>
<g transform="translate(326.5 161.6) scale(0.91 1)"><text x="0" y="0" font-size="9.6" fill="#1f5fb8" text-anchor="end" stroke="#1f5fb8" stroke-width="0.25">0.0</text></g>
<line x1="328.3" y1="133.35" x2="331.5" y2="133.35" stroke="#3f80d0" stroke-width="1.1"/>
<g transform="translate(326.5 136.45) scale(0.91 1)"><text x="0" y="0" font-size="9.6" fill="#1f5fb8" text-anchor="end" stroke="#1f5fb8" stroke-width="0.25">0.5</text></g>
<line x1="328.3" y1="108.2" x2="331.5" y2="108.2" stroke="#3f80d0" stroke-width="1.1"/>
<g transform="translate(326.5 111.3) scale(0.91 1)"><text x="0" y="0" font-size="9.6" fill="#1f5fb8" text-anchor="end" stroke="#1f5fb8" stroke-width="0.25">1.0</text></g>
<line x1="328.3" y1="83.05" x2="331.5" y2="83.05" stroke="#3f80d0" stroke-width="1.1"/>
<g transform="translate(326.5 86.15) scale(0.91 1)"><text x="0" y="0" font-size="9.6" fill="#1f5fb8" text-anchor="end" stroke="#1f5fb8" stroke-width="0.25">1.5</text></g>
<line x1="328.3" y1="57.9" x2="331.5" y2="57.9" stroke="#3f80d0" stroke-width="1.1"/>
<g transform="translate(326.5 61) scale(0.91 1)"><text x="0" y="0" font-size="9.6" fill="#1f5fb8" text-anchor="end" stroke="#1f5fb8" stroke-width="0.25">2.0</text></g>
<line x1="328.3" y1="32.75" x2="331.5" y2="32.75" stroke="#3f80d0" stroke-width="1.1"/>
<g transform="translate(326.5 35.85) scale(0.91 1)"><text x="0" y="0" font-size="9.6" fill="#1f5fb8" text-anchor="end" stroke="#1f5fb8" stroke-width="0.25">2.5</text></g>
<line x1="328.3" y1="7.6" x2="331.5" y2="7.6" stroke="#3f80d0" stroke-width="1.1"/>
<g transform="translate(326.5 10.7) scale(0.91 1)"><text x="0" y="0" font-size="9.6" fill="#1f5fb8" text-anchor="end" stroke="#1f5fb8" stroke-width="0.25">3.0</text></g>
<line x1="535" y1="171" x2="538" y2="171" stroke="#ff6b6b" stroke-width="1"/>
<g transform="translate(541 174.2) scale(0.92 1)"><text x="0" y="0" font-size="9.4" fill="#ff3030" text-anchor="start" stroke="#ff3030" stroke-width="0.12">0</text></g>
<line x1="535" y1="141.24" x2="538" y2="141.24" stroke="#ff6b6b" stroke-width="1"/>
<g transform="translate(541 144.44) scale(0.92 1)"><text x="0" y="0" font-size="9.4" fill="#ff3030" text-anchor="start" stroke="#ff3030" stroke-width="0.12">20</text></g>
<line x1="535" y1="111.48" x2="538" y2="111.48" stroke="#ff6b6b" stroke-width="1"/>
<g transform="translate(541 114.68) scale(0.92 1)"><text x="0" y="0" font-size="9.4" fill="#ff3030" text-anchor="start" stroke="#ff3030" stroke-width="0.12">40</text></g>
<line x1="535" y1="81.72" x2="538" y2="81.72" stroke="#ff6b6b" stroke-width="1"/>
<g transform="translate(541 84.92) scale(0.92 1)"><text x="0" y="0" font-size="9.4" fill="#ff3030" text-anchor="start" stroke="#ff3030" stroke-width="0.12">60</text></g>
<line x1="535" y1="51.96" x2="538" y2="51.96" stroke="#ff6b6b" stroke-width="1"/>
<g transform="translate(541 55.16) scale(0.92 1)"><text x="0" y="0" font-size="9.4" fill="#ff3030" text-anchor="start" stroke="#ff3030" stroke-width="0.12">80</text></g>
<line x1="535" y1="22.2" x2="538" y2="22.2" stroke="#ff6b6b" stroke-width="1"/>
<g transform="translate(541 25.4) scale(0.92 1)"><text x="0" y="0" font-size="9.4" fill="#ff3030" text-anchor="start" stroke="#ff3030" stroke-width="0.12">100</text></g>
<text x="307.4" y="86.6" font-size="11.65" fill="#1f5fb8" text-anchor="middle" font-weight="normal" transform="rotate(-90 307.4 86.6)" stroke="#1f5fb8" stroke-width="0.3">RMS Voltage&#160;&#160;(V)</text>
<text x="568" y="85.9" font-size="11.65" fill="#ff1a1a" text-anchor="middle" font-weight="normal" transform="rotate(-90 568 85.9)" stroke="#ff1a1a" stroke-width="0.3">RMS Current&#160;&#160;(nA)</text>
<text x="435.5" y="201" font-size="11.6" fill="#1a1a1a" text-anchor="middle" font-weight="normal" stroke="#1a1a1a" stroke-width="0.3">Resistance&#160;&#160;(&#937;)</text>
<g transform="translate(1.9 222.9) scale(0.88 1)"><text x="0" y="0" font-size="13.6" font-weight="bold" fill="#000">c</text></g>
<path d="M52,377.95 L61.98,377.95 L71.96,377.95 L94.69,376.35 L117.41,374.7 L123.21,372.2 L129,369.8 L142.46,358.1 L155.91,346.9 L161.71,337.5 L167.5,328.6 L175.16,311.2 L182.82,298.1 L188.62,283.35 L194.41,273.9 L197.8,265.35 L201.19,259.8 L203.59,253.15 L206,248.9 L209.39,240.45 L212.78,234.4 L215.18,232.35 L217.59,230.7 L219.46,229.85 L221.32,229.8 L222.84,229.85 L224.37,231.1 L226.77,236.4 L229.18,241.9 L231.04,247.55 L232.91,253.2 L234.43,258.95 L235.96,264.7 L237.25,269.75 L238.54,274.8 L238.54,276 L237.25,270.95 L235.96,265.9 L234.43,260.15 L232.91,254.4 L231.04,248.75 L229.18,243.1 L226.77,238.8 L224.37,234.3 L222.84,235.05 L221.32,234.6 L219.46,235.05 L217.59,234.7 L215.18,236.35 L212.78,237.6 L209.39,245.65 L206,251.3 L203.59,257.95 L201.19,262.2 L197.8,270.55 L194.41,275.9 L188.62,290.55 L182.82,299.9 L175.16,317.2 L167.5,330.2 L161.71,339.5 L155.91,348.3 L142.46,359.9 L129,371 L123.21,373.4 L117.41,375.7 L94.69,377.15 L71.96,378.65 L61.98,378.65 L52,378.65 Z" fill="#e2d8fc" stroke="none"/>
<path d="M52,377.95 L61.98,377.95 L71.96,377.95 L94.69,376.35 L117.41,374.7 L123.21,372.2 L129,369.8 L142.46,358.1 L155.91,346.9 L161.71,337.5 L167.5,328.6 L175.16,311.2 L182.82,298.1 L188.62,283.35 L194.41,273.9 L197.8,265.35 L201.19,259.8 L203.59,253.15 L206,248.9 L209.39,240.45 L212.78,234.4 L215.18,232.35 L217.59,230.7 L219.46,229.85 L221.32,229.8 L222.84,229.85 L224.37,231.1 L226.77,236.4 L229.18,241.9 L231.04,247.55 L232.91,253.2 L234.43,258.95 L235.96,264.7 L237.25,269.75 L238.54,274.8" fill="none" stroke="#a68ff3" stroke-width="0.75"/>
<path d="M52,378.65 L61.98,378.65 L71.96,378.65 L94.69,377.15 L117.41,375.7 L123.21,373.4 L129,371 L142.46,359.9 L155.91,348.3 L161.71,339.5 L167.5,330.2 L175.16,317.2 L182.82,299.9 L188.62,290.55 L194.41,275.9 L197.8,270.55 L201.19,262.2 L203.59,257.95 L206,251.3 L209.39,245.65 L212.78,237.6 L215.18,236.35 L217.59,234.7 L219.46,235.05 L221.32,234.6 L222.84,235.05 L224.37,234.3 L226.77,238.8 L229.18,243.1 L231.04,248.75 L232.91,254.4 L234.43,260.15 L235.96,265.9 L237.25,270.95 L238.54,276" fill="none" stroke="#a68ff3" stroke-width="0.75"/>
<path d="M52,377.9 L61.98,377.9 L71.96,377.9 L94.69,377 L117.41,376.1 L123.21,375.3 L129,374.5 L142.46,369.15 L155.91,363.7 L161.71,359.05 L167.5,354.7 L175.16,347 L182.82,340.2 L188.62,333.7 L194.41,328.4 L197.8,324.2 L201.19,320.8 L203.59,318.05 L206,315.7 L209.39,311.55 L212.78,307.8 L215.18,306.3 L217.59,305.2 L219.46,304.4 L221.32,303.6 L222.84,304.15 L224.37,304.9 L226.77,307.05 L229.18,309.3 L231.04,312.05 L232.91,314.8 L234.43,317.8 L235.96,320.8 L235.96,321.8 L234.43,318.8 L232.91,315.8 L231.04,313.05 L229.18,310.3 L226.77,308.25 L224.37,306.1 L222.84,305.75 L221.32,305.2 L219.46,306 L217.59,306.8 L215.18,308.3 L212.78,309.4 L209.39,313.55 L206,317.3 L203.59,320.05 L201.19,322.4 L197.8,326.6 L194.41,330 L188.62,336.5 L182.82,341.8 L175.16,349.4 L167.5,356.1 L161.71,360.65 L155.91,364.9 L142.46,370.15 L129,375.5 L123.21,376.3 L117.41,377.1 L94.69,378 L71.96,378.9 L61.98,378.9 L52,378.9 Z" fill="#dcecff" stroke="none"/>
<path d="M52,377.9 L61.98,377.9 L71.96,377.9 L94.69,377 L117.41,376.1 L123.21,375.3 L129,374.5 L142.46,369.15 L155.91,363.7 L161.71,359.05 L167.5,354.7 L175.16,347 L182.82,340.2 L188.62,333.7 L194.41,328.4 L197.8,324.2 L201.19,320.8 L203.59,318.05 L206,315.7 L209.39,311.55 L212.78,307.8 L215.18,306.3 L217.59,305.2 L219.46,304.4 L221.32,303.6 L222.84,304.15 L224.37,304.9 L226.77,307.05 L229.18,309.3 L231.04,312.05 L232.91,314.8 L234.43,317.8 L235.96,320.8" fill="none" stroke="#9fcbff" stroke-width="0.4"/>
<path d="M52,378.9 L61.98,378.9 L71.96,378.9 L94.69,378 L117.41,377.1 L123.21,376.3 L129,375.5 L142.46,370.15 L155.91,364.9 L161.71,360.65 L167.5,356.1 L175.16,349.4 L182.82,341.8 L188.62,336.5 L194.41,330 L197.8,326.6 L201.19,322.4 L203.59,320.05 L206,317.3 L209.39,313.55 L212.78,309.4 L215.18,308.3 L217.59,306.8 L219.46,306 L221.32,305.2 L222.84,305.75 L224.37,306.1 L226.77,308.25 L229.18,310.3 L231.04,313.05 L232.91,315.8 L234.43,318.8 L235.96,321.8" fill="none" stroke="#9fcbff" stroke-width="0.4"/>
<path d="M52,378.4 L71.96,378.4 L117.41,376.6 L129,375 L155.91,364.3 L167.5,355.4 L182.82,341 L194.41,329.2 L201.19,321.6 L206,316.5 L212.78,308.6 L217.59,306 L221.32,304.4 L224.37,305.5 L229.18,309.8 L232.91,315.3 L235.96,321.3" fill="none" stroke="#4ba3ff" stroke-width="0.8"/>
<path d="M52,377.9 L61.98,377.9 L71.96,377.9 L94.69,377.8 L117.41,377.7 L123.21,377.1 L129,376.5 L142.46,373.55 L155.91,370.6 L161.71,368.1 L167.5,365.6 L175.16,360.5 L182.82,355.4 L188.62,350.9 L194.41,346.4 L197.8,343.3 L201.19,340.2 L203.59,338.5 L206,336.8 L209.39,334.2 L212.78,331.6 L217.05,329.6 L221.32,329.5 L222.84,329.25 L224.37,329.3 L226.77,330.85 L229.18,332.4 L231.04,334.25 L232.91,336.1 L234.43,338.1 L235.96,340.1 L235.96,341.1 L234.43,339.1 L232.91,337.1 L231.04,335.25 L229.18,333.4 L226.77,331.85 L224.37,330.3 L222.84,330.85 L221.32,331.1 L217.05,332.8 L212.78,332.6 L209.39,335.2 L206,337.8 L203.59,339.5 L201.19,341.2 L197.8,344.3 L194.41,347.4 L188.62,351.9 L182.82,356.4 L175.16,361.5 L167.5,366.6 L161.71,369.1 L155.91,371.6 L142.46,374.55 L129,377.5 L123.21,378.1 L117.41,378.7 L94.69,378.8 L71.96,378.9 L61.98,378.9 L52,378.9 Z" fill="#ffeedd" stroke="none"/>
<path d="M52,377.9 L61.98,377.9 L71.96,377.9 L94.69,377.8 L117.41,377.7 L123.21,377.1 L129,376.5 L142.46,373.55 L155.91,370.6 L161.71,368.1 L167.5,365.6 L175.16,360.5 L182.82,355.4 L188.62,350.9 L194.41,346.4 L197.8,343.3 L201.19,340.2 L203.59,338.5 L206,336.8 L209.39,334.2 L212.78,331.6 L217.05,329.6 L221.32,329.5 L222.84,329.25 L224.37,329.3 L226.77,330.85 L229.18,332.4 L231.04,334.25 L232.91,336.1 L234.43,338.1 L235.96,340.1" fill="none" stroke="#ffcf99" stroke-width="0.4"/>
<path d="M52,378.9 L61.98,378.9 L71.96,378.9 L94.69,378.8 L117.41,378.7 L123.21,378.1 L129,377.5 L142.46,374.55 L155.91,371.6 L161.71,369.1 L167.5,366.6 L175.16,361.5 L182.82,356.4 L188.62,351.9 L194.41,347.4 L197.8,344.3 L201.19,341.2 L203.59,339.5 L206,337.8 L209.39,335.2 L212.78,332.6 L217.05,332.8 L221.32,331.1 L222.84,330.85 L224.37,330.3 L226.77,331.85 L229.18,333.4 L231.04,335.25 L232.91,337.1 L234.43,339.1 L235.96,341.1" fill="none" stroke="#ffcf99" stroke-width="0.4"/>
<path d="M52,378.4 L71.96,378.4 L117.41,378.2 L129,377 L155.91,371.1 L167.5,366.1 L182.82,355.9 L194.41,346.9 L201.19,340.7 L206,337.3 L212.78,332.1 L221.32,330.3 L224.37,329.8 L229.18,332.9 L232.91,336.6 L235.96,340.6" fill="none" stroke="#ffa852" stroke-width="0.8"/>
<rect x="50.1" y="376.5" width="3.8" height="3.8" fill="#ff7f0a"/>
<rect x="70.06" y="376.5" width="3.8" height="3.8" fill="#ff7f0a"/>
<rect x="115.51" y="376.3" width="3.8" height="3.8" fill="#ff7f0a"/>
<rect x="127.1" y="375.1" width="3.8" height="3.8" fill="#ff7f0a"/>
<rect x="154.01" y="369.2" width="3.8" height="3.8" fill="#ff7f0a"/>
<rect x="165.6" y="364.2" width="3.8" height="3.8" fill="#ff7f0a"/>
<rect x="180.92" y="354" width="3.8" height="3.8" fill="#ff7f0a"/>
<rect x="192.51" y="345" width="3.8" height="3.8" fill="#ff7f0a"/>
<rect x="199.29" y="338.8" width="3.8" height="3.8" fill="#ff7f0a"/>
<rect x="204.1" y="335.4" width="3.8" height="3.8" fill="#ff7f0a"/>
<rect x="210.88" y="330.2" width="3.8" height="3.8" fill="#ff7f0a"/>
<rect x="219.42" y="328.4" width="3.8" height="3.8" fill="#ff7f0a"/>
<rect x="222.47" y="327.9" width="3.8" height="3.8" fill="#ff7f0a"/>
<rect x="227.28" y="331" width="3.8" height="3.8" fill="#ff7f0a"/>
<rect x="231.01" y="334.7" width="3.8" height="3.8" fill="#ff7f0a"/>
<rect x="234.06" y="338.7" width="3.8" height="3.8" fill="#ff7f0a"/>
<circle cx="52" cy="378.4" r="2.2" fill="#0a7cff"/>
<circle cx="71.96" cy="378.4" r="2.2" fill="#0a7cff"/>
<circle cx="117.41" cy="376.6" r="2.2" fill="#0a7cff"/>
<circle cx="129" cy="375" r="2.2" fill="#0a7cff"/>
<circle cx="155.91" cy="364.3" r="2.2" fill="#0a7cff"/>
<circle cx="167.5" cy="355.4" r="2.2" fill="#0a7cff"/>
<circle cx="182.82" cy="341" r="2.2" fill="#0a7cff"/>
<circle cx="194.41" cy="329.2" r="2.2" fill="#0a7cff"/>
<circle cx="201.19" cy="321.6" r="2.2" fill="#0a7cff"/>
<circle cx="206" cy="316.5" r="2.2" fill="#0a7cff"/>
<circle cx="212.78" cy="308.6" r="2.2" fill="#0a7cff"/>
<circle cx="217.59" cy="306" r="2.2" fill="#0a7cff"/>
<circle cx="221.32" cy="304.4" r="2.2" fill="#0a7cff"/>
<circle cx="224.37" cy="305.5" r="2.2" fill="#0a7cff"/>
<circle cx="229.18" cy="309.8" r="2.2" fill="#0a7cff"/>
<circle cx="232.91" cy="315.3" r="2.2" fill="#0a7cff"/>
<circle cx="235.96" cy="321.3" r="2.2" fill="#0a7cff"/>
<path d="M52,375.57 L54.45,379.98 L49.55,379.98 Z" fill="#2a08ff"/>
<path d="M71.96,375.57 L74.41,379.98 L69.51,379.98 Z" fill="#2a08ff"/>
<path d="M117.41,372.47 L119.86,376.88 L114.96,376.88 Z" fill="#2a08ff"/>
<path d="M129,367.67 L131.45,372.08 L126.55,372.08 Z" fill="#2a08ff"/>
<path d="M155.91,344.87 L158.36,349.28 L153.46,349.28 Z" fill="#2a08ff"/>
<path d="M167.5,326.67 L169.95,331.08 L165.05,331.08 Z" fill="#2a08ff"/>
<path d="M182.82,296.27 L185.27,300.68 L180.37,300.68 Z" fill="#2a08ff"/>
<path d="M194.41,272.17 L196.86,276.58 L191.96,276.58 Z" fill="#2a08ff"/>
<path d="M201.19,258.27 L203.64,262.68 L198.74,262.68 Z" fill="#2a08ff"/>
<path d="M206,247.37 L208.45,251.78 L203.55,251.78 Z" fill="#2a08ff"/>
<path d="M212.78,233.27 L215.23,237.68 L210.33,237.68 Z" fill="#2a08ff"/>
<path d="M217.59,229.97 L220.04,234.38 L215.14,234.38 Z" fill="#2a08ff"/>
<path d="M221.32,229.47 L223.77,233.88 L218.87,233.88 Z" fill="#2a08ff"/>
<path d="M224.37,229.97 L226.82,234.38 L221.92,234.38 Z" fill="#2a08ff"/>
<path d="M229.18,239.77 L231.63,244.18 L226.73,244.18 Z" fill="#2a08ff"/>
<path d="M232.91,251.07 L235.36,255.48 L230.46,255.48 Z" fill="#2a08ff"/>
<path d="M235.96,262.57 L238.41,266.98 L233.51,266.98 Z" fill="#2a08ff"/>
<path d="M238.54,272.67 L240.99,277.08 L236.09,277.08 Z" fill="#2a08ff"/>
<rect x="40.2" y="219.4" width="204.3" height="164.4" fill="none" stroke="#1a1a1a" stroke-width="1"/>
<line x1="40.41" y1="383.8" x2="40.41" y2="385.9" stroke="#1a1a1a" stroke-width="0.95"/>
<line x1="43.46" y1="383.8" x2="43.46" y2="385.9" stroke="#1a1a1a" stroke-width="0.95"/>
<line x1="46.04" y1="383.8" x2="46.04" y2="385.9" stroke="#1a1a1a" stroke-width="0.95"/>
<line x1="48.27" y1="383.8" x2="48.27" y2="385.9" stroke="#1a1a1a" stroke-width="0.95"/>
<line x1="50.24" y1="383.8" x2="50.24" y2="385.9" stroke="#1a1a1a" stroke-width="0.95"/>
<line x1="52" y1="383.8" x2="52" y2="387.2" stroke="#1a1a1a" stroke-width="1"/>
<line x1="63.59" y1="383.8" x2="63.59" y2="385.9" stroke="#1a1a1a" stroke-width="0.95"/>
<line x1="70.37" y1="383.8" x2="70.37" y2="385.9" stroke="#1a1a1a" stroke-width="0.95"/>
<line x1="75.18" y1="383.8" x2="75.18" y2="385.9" stroke="#1a1a1a" stroke-width="0.95"/>
<line x1="78.91" y1="383.8" x2="78.91" y2="385.9" stroke="#1a1a1a" stroke-width="0.95"/>
<line x1="81.96" y1="383.8" x2="81.96" y2="385.9" stroke="#1a1a1a" stroke-width="0.95"/>
<line x1="84.54" y1="383.8" x2="84.54" y2="385.9" stroke="#1a1a1a" stroke-width="0.95"/>
<line x1="86.77" y1="383.8" x2="86.77" y2="385.9" stroke="#1a1a1a" stroke-width="0.95"/>
<line x1="88.74" y1="383.8" x2="88.74" y2="385.9" stroke="#1a1a1a" stroke-width="0.95"/>
<line x1="90.5" y1="383.8" x2="90.5" y2="387.2" stroke="#1a1a1a" stroke-width="1"/>
<line x1="102.09" y1="383.8" x2="102.09" y2="385.9" stroke="#1a1a1a" stroke-width="0.95"/>
<line x1="108.87" y1="383.8" x2="108.87" y2="385.9" stroke="#1a1a1a" stroke-width="0.95"/>
<line x1="113.68" y1="383.8" x2="113.68" y2="385.9" stroke="#1a1a1a" stroke-width="0.95"/>
<line x1="117.41" y1="383.8" x2="117.41" y2="385.9" stroke="#1a1a1a" stroke-width="0.95"/>
<line x1="120.46" y1="383.8" x2="120.46" y2="385.9" stroke="#1a1a1a" stroke-width="0.95"/>
<line x1="123.04" y1="383.8" x2="123.04" y2="385.9" stroke="#1a1a1a" stroke-width="0.95"/>
<line x1="125.27" y1="383.8" x2="125.27" y2="385.9" stroke="#1a1a1a" stroke-width="0.95"/>
<line x1="127.24" y1="383.8" x2="127.24" y2="385.9" stroke="#1a1a1a" stroke-width="0.95"/>
<line x1="129" y1="383.8" x2="129" y2="387.2" stroke="#1a1a1a" stroke-width="1"/>
<line x1="140.59" y1="383.8" x2="140.59" y2="385.9" stroke="#1a1a1a" stroke-width="0.95"/>
<line x1="147.37" y1="383.8" x2="147.37" y2="385.9" stroke="#1a1a1a" stroke-width="0.95"/>
<line x1="152.18" y1="383.8" x2="152.18" y2="385.9" stroke="#1a1a1a" stroke-width="0.95"/>
<line x1="155.91" y1="383.8" x2="155.91" y2="385.9" stroke="#1a1a1a" stroke-width="0.95"/>
<line x1="158.96" y1="383.8" x2="158.96" y2="385.9" stroke="#1a1a1a" stroke-width="0.95"/>
<line x1="161.54" y1="383.8" x2="161.54" y2="385.9" stroke="#1a1a1a" stroke-width="0.95"/>
<line x1="163.77" y1="383.8" x2="163.77" y2="385.9" stroke="#1a1a1a" stroke-width="0.95"/>
<line x1="165.74" y1="383.8" x2="165.74" y2="385.9" stroke="#1a1a1a" stroke-width="0.95"/>
<line x1="167.5" y1="383.8" x2="167.5" y2="387.2" stroke="#1a1a1a" stroke-width="1"/>
<line x1="179.09" y1="383.8" x2="179.09" y2="385.9" stroke="#1a1a1a" stroke-width="0.95"/>
<line x1="185.87" y1="383.8" x2="185.87" y2="385.9" stroke="#1a1a1a" stroke-width="0.95"/>
<line x1="190.68" y1="383.8" x2="190.68" y2="385.9" stroke="#1a1a1a" stroke-width="0.95"/>
<line x1="194.41" y1="383.8" x2="194.41" y2="385.9" stroke="#1a1a1a" stroke-width="0.95"/>
<line x1="197.46" y1="383.8" x2="197.46" y2="385.9" stroke="#1a1a1a" stroke-width="0.95"/>
<line x1="200.04" y1="383.8" x2="200.04" y2="385.9" stroke="#1a1a1a" stroke-width="0.95"/>
<line x1="202.27" y1="383.8" x2="202.27" y2="385.9" stroke="#1a1a1a" stroke-width="0.95"/>
<line x1="204.24" y1="383.8" x2="204.24" y2="385.9" stroke="#1a1a1a" stroke-width="0.95"/>
<line x1="206" y1="383.8" x2="206" y2="387.2" stroke="#1a1a1a" stroke-width="1"/>
<line x1="217.59" y1="383.8" x2="217.59" y2="385.9" stroke="#1a1a1a" stroke-width="0.95"/>
<line x1="224.37" y1="383.8" x2="224.37" y2="385.9" stroke="#1a1a1a" stroke-width="0.95"/>
<line x1="229.18" y1="383.8" x2="229.18" y2="385.9" stroke="#1a1a1a" stroke-width="0.95"/>
<line x1="232.91" y1="383.8" x2="232.91" y2="385.9" stroke="#1a1a1a" stroke-width="0.95"/>
<line x1="235.96" y1="383.8" x2="235.96" y2="385.9" stroke="#1a1a1a" stroke-width="0.95"/>
<line x1="238.54" y1="383.8" x2="238.54" y2="385.9" stroke="#1a1a1a" stroke-width="0.95"/>
<line x1="240.77" y1="383.8" x2="240.77" y2="385.9" stroke="#1a1a1a" stroke-width="0.95"/>
<line x1="242.74" y1="383.8" x2="242.74" y2="385.9" stroke="#1a1a1a" stroke-width="0.95"/>
<line x1="244.5" y1="383.8" x2="244.5" y2="387.2" stroke="#1a1a1a" stroke-width="1"/>
<g transform="translate(52 396) scale(0.93 1)"><text x="0" y="0" font-size="9.0" fill="#1a1a1a" text-anchor="middle" stroke="#1a1a1a" stroke-width="0.12">10k</text></g>
<g transform="translate(90.5 396) scale(0.93 1)"><text x="0" y="0" font-size="9.0" fill="#1a1a1a" text-anchor="middle" stroke="#1a1a1a" stroke-width="0.12">100k</text></g>
<g transform="translate(129 396) scale(0.93 1)"><text x="0" y="0" font-size="9.0" fill="#1a1a1a" text-anchor="middle" stroke="#1a1a1a" stroke-width="0.12">1M</text></g>
<g transform="translate(167.5 396) scale(0.93 1)"><text x="0" y="0" font-size="9.0" fill="#1a1a1a" text-anchor="middle" stroke="#1a1a1a" stroke-width="0.12">10M</text></g>
<g transform="translate(206 396) scale(0.93 1)"><text x="0" y="0" font-size="9.0" fill="#1a1a1a" text-anchor="middle" stroke="#1a1a1a" stroke-width="0.12">100M</text></g>
<g transform="translate(244.5 396) scale(0.93 1)"><text x="0" y="0" font-size="9.0" fill="#1a1a1a" text-anchor="middle" stroke="#1a1a1a" stroke-width="0.12">1G</text></g>
<line x1="37.2" y1="378.4" x2="40.2" y2="378.4" stroke="#1a1a1a" stroke-width="1"/>
<line x1="38.2" y1="368.78" x2="40.2" y2="368.78" stroke="#1a1a1a" stroke-width="0.8"/>
<g transform="translate(35.2 381.5) scale(0.9 1)"><text x="0" y="0" font-size="9.0" fill="#1a1a1a" text-anchor="end" stroke="#1a1a1a" stroke-width="0.1">0</text></g>
<line x1="37.2" y1="359.16" x2="40.2" y2="359.16" stroke="#1a1a1a" stroke-width="1"/>
<line x1="38.2" y1="349.54" x2="40.2" y2="349.54" stroke="#1a1a1a" stroke-width="0.8"/>
<g transform="translate(35.2 362.26) scale(0.9 1)"><text x="0" y="0" font-size="9.0" fill="#1a1a1a" text-anchor="end" stroke="#1a1a1a" stroke-width="0.1">20</text></g>
<line x1="37.2" y1="339.92" x2="40.2" y2="339.92" stroke="#1a1a1a" stroke-width="1"/>
<line x1="38.2" y1="330.3" x2="40.2" y2="330.3" stroke="#1a1a1a" stroke-width="0.8"/>
<g transform="translate(35.2 343.02) scale(0.9 1)"><text x="0" y="0" font-size="9.0" fill="#1a1a1a" text-anchor="end" stroke="#1a1a1a" stroke-width="0.1">40</text></g>
<line x1="37.2" y1="320.68" x2="40.2" y2="320.68" stroke="#1a1a1a" stroke-width="1"/>
<line x1="38.2" y1="311.06" x2="40.2" y2="311.06" stroke="#1a1a1a" stroke-width="0.8"/>
<g transform="translate(35.2 323.78) scale(0.9 1)"><text x="0" y="0" font-size="9.0" fill="#1a1a1a" text-anchor="end" stroke="#1a1a1a" stroke-width="0.1">60</text></g>
<line x1="37.2" y1="301.44" x2="40.2" y2="301.44" stroke="#1a1a1a" stroke-width="1"/>
<line x1="38.2" y1="291.82" x2="40.2" y2="291.82" stroke="#1a1a1a" stroke-width="0.8"/>
<g transform="translate(35.2 304.54) scale(0.9 1)"><text x="0" y="0" font-size="9.0" fill="#1a1a1a" text-anchor="end" stroke="#1a1a1a" stroke-width="0.1">80</text></g>
<line x1="37.2" y1="282.2" x2="40.2" y2="282.2" stroke="#1a1a1a" stroke-width="1"/>
<line x1="38.2" y1="272.58" x2="40.2" y2="272.58" stroke="#1a1a1a" stroke-width="0.8"/>
<g transform="translate(35.2 285.3) scale(0.9 1)"><text x="0" y="0" font-size="9.0" fill="#1a1a1a" text-anchor="end" stroke="#1a1a1a" stroke-width="0.1">100</text></g>
<line x1="37.2" y1="262.96" x2="40.2" y2="262.96" stroke="#1a1a1a" stroke-width="1"/>
<line x1="38.2" y1="253.34" x2="40.2" y2="253.34" stroke="#1a1a1a" stroke-width="0.8"/>
<g transform="translate(35.2 266.06) scale(0.9 1)"><text x="0" y="0" font-size="9.0" fill="#1a1a1a" text-anchor="end" stroke="#1a1a1a" stroke-width="0.1">120</text></g>
<line x1="37.2" y1="243.72" x2="40.2" y2="243.72" stroke="#1a1a1a" stroke-width="1"/>
<line x1="38.2" y1="234.1" x2="40.2" y2="234.1" stroke="#1a1a1a" stroke-width="0.8"/>
<g transform="translate(35.2 246.82) scale(0.9 1)"><text x="0" y="0" font-size="9.0" fill="#1a1a1a" text-anchor="end" stroke="#1a1a1a" stroke-width="0.1">140</text></g>
<line x1="37.2" y1="224.48" x2="40.2" y2="224.48" stroke="#1a1a1a" stroke-width="1"/>
<g transform="translate(35.2 227.58) scale(0.9 1)"><text x="0" y="0" font-size="9.0" fill="#1a1a1a" text-anchor="end" stroke="#1a1a1a" stroke-width="0.1">160</text></g>
<text x="18" y="301.3" font-size="11.8" fill="#1a1a1a" text-anchor="middle" font-weight="normal" transform="rotate(-90 18 301.3)" stroke="#1a1a1a" stroke-width="0.1">Power (nW)</text>
<text x="142.6" y="411" font-size="11.6" fill="#1a1a1a" text-anchor="middle" font-weight="normal" stroke="#1a1a1a" stroke-width="0.15">Resistance (&#937;)</text>
<path d="M55.2,230.61 L57.7,235.11 L52.7,235.11 Z" fill="#2a08ff"/>
<text x="66.6" y="236.2" font-size="7.65" fill="#1a1a1a" text-anchor="start" font-weight="normal" stroke="#1a1a1a" stroke-width="0.15">10 min (41 &#177; 1%)</text>
<circle cx="55.2" cy="244.2" r="2.2" fill="#0a7cff"/>
<text x="66.6" y="246.9" font-size="7.65" fill="#1a1a1a" text-anchor="start" font-weight="normal" stroke="#1a1a1a" stroke-width="0.15">5 min (28 &#177; 1%)</text>
<rect x="53.5" y="252" width="3.4" height="3.4" fill="#ff7f0a"/>
<text x="66.6" y="256.4" font-size="7.65" fill="#1a1a1a" text-anchor="start" font-weight="normal" stroke="#1a1a1a" stroke-width="0.15">1.5 min (13 &#177; 2%)</text>
<g transform="translate(291.4 223.1) scale(0.88 1)"><text x="0" y="0" font-size="13.6" font-weight="bold" fill="#000">d</text></g>
<rect x="360.5" y="247.5" width="128.8" height="15.2" fill="#c55a11"/>
<rect x="360.5" y="262.7" width="128.8" height="30" fill="#c9c9c9"/>
<rect x="360.5" y="262.3" width="128.8" height="1" fill="#b9d0e8"/>
<rect x="360.5" y="319.7" width="128.8" height="23.2" fill="#2f5597"/>
<rect x="360.5" y="342.9" width="128.8" height="11.7" fill="#ffc000"/>
<rect x="360.5" y="354.6" width="128.8" height="15" fill="#c55a11"/>
<path d="M425,247.5 C425,238 440,232 483.2,231.7" fill="none" stroke="#707070" stroke-width="0.9"/>
<path d="M425,369.6 C425,379 440,385 483.2,385.2" fill="none" stroke="#707070" stroke-width="0.9"/>
<g transform="translate(425 259.1) scale(0.95 1)"><text x="0" y="0" font-size="10.6" fill="#fff" text-anchor="middle" stroke="#fff" stroke-width="0.35">Cu</text></g>
<g transform="translate(425 281.7) scale(0.85 1)"><text x="0" y="0" font-size="10.6" fill="#fbfbfb" text-anchor="middle" stroke="#fbfbfb" stroke-width="0.35">PTFE</text></g>
<g transform="translate(425.2 335.3) scale(0.93 1)"><text x="0" y="0" font-size="10.6" fill="#fff" text-anchor="middle" stroke="#fff" stroke-width="0.35">PLLA&#160; NTs</text></g>
<g transform="translate(425 353.3) scale(0.95 1)"><text x="0" y="0" font-size="10.6" fill="#fff" text-anchor="middle" stroke="#fff" stroke-width="0.35">Au</text></g>
<g transform="translate(425 366.6) scale(0.95 1)"><text x="0" y="0" font-size="10.6" fill="#fff" text-anchor="middle" stroke="#fff" stroke-width="0.35">Cu</text></g>
<line x1="356" y1="296" x2="356" y2="317" stroke="#333" stroke-width="0.8"/>
<path d="M354,298 L356,294.3 L358,298 Z" fill="#111"/>
<path d="M354,315.3 L356,319 L358,315.3 Z" fill="#111"/>
<g transform="translate(337.3 306.2) scale(1.07 1)"><text x="0" y="0" font-size="13.2" fill="#111" text-anchor="middle" stroke="#111" stroke-width="0.3">x(t)</text></g>
</svg>
</body></html>
